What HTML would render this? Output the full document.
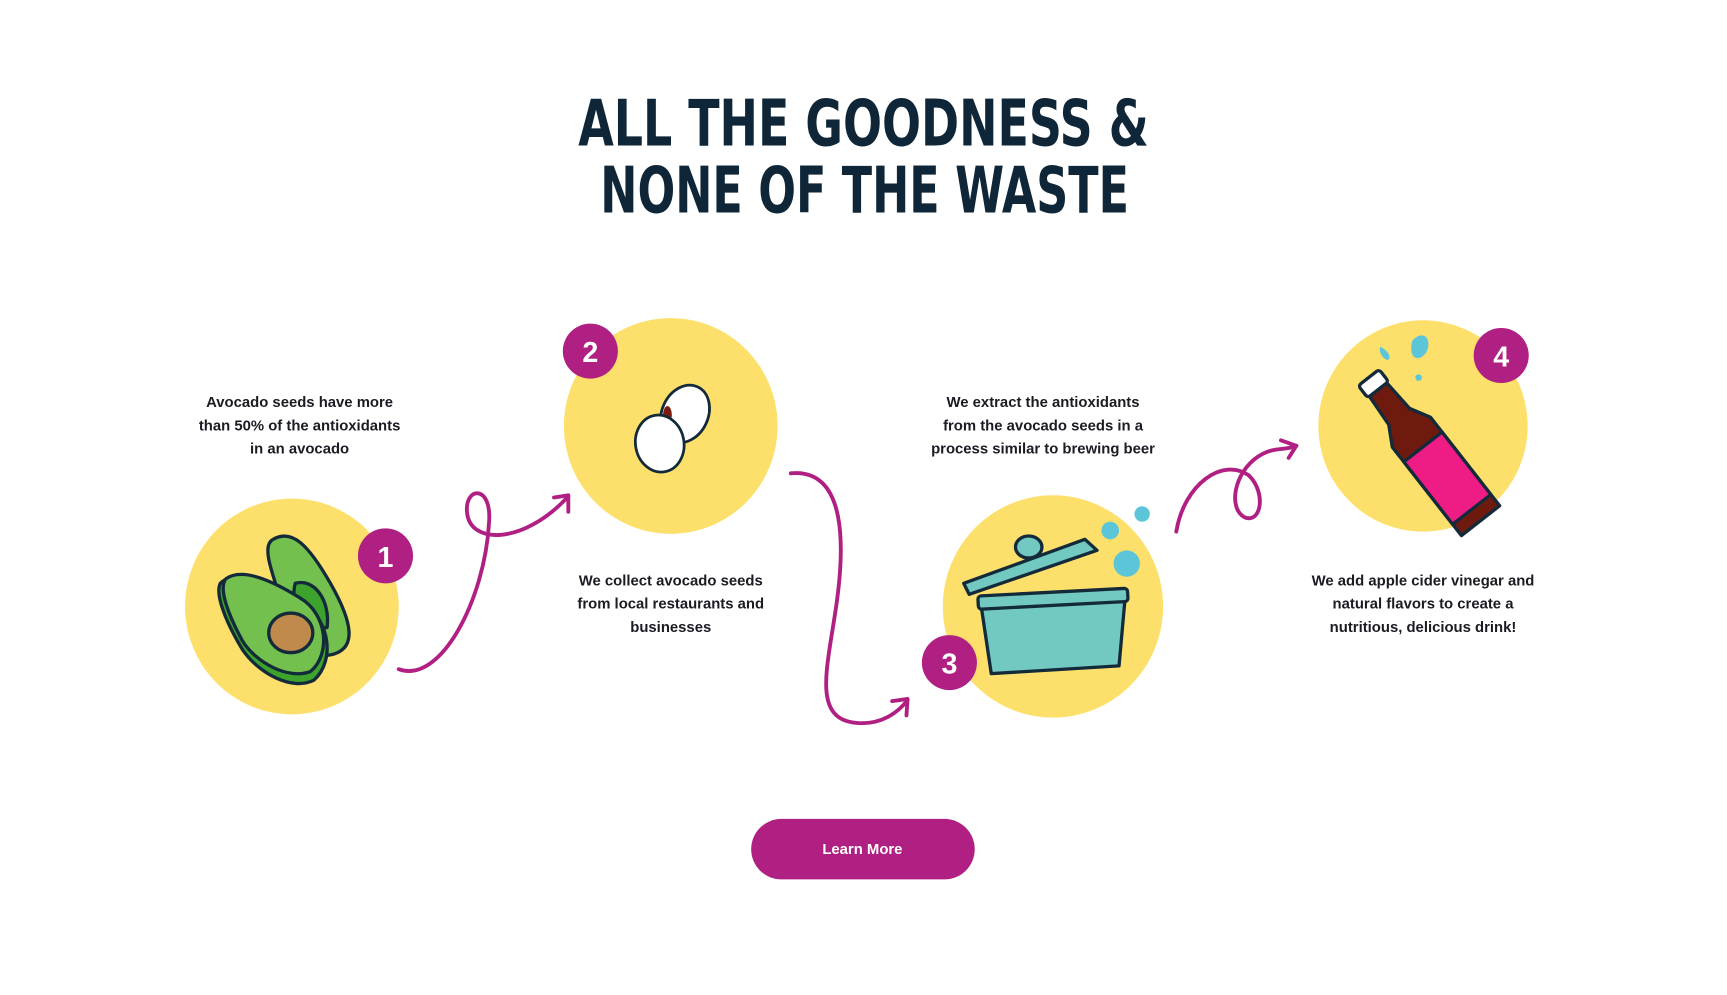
<!DOCTYPE html>
<html><head><meta charset="utf-8"><style>
html,body{margin:0;padding:0;background:#fff;}
svg{display:block;}
.t{font-family:"Liberation Sans",sans-serif;font-weight:bold;font-size:13.5px;fill:#1b1b24;text-anchor:middle;}
.h{font-family:"Liberation Sans Narrow","DejaVu Sans Condensed","Liberation Sans",sans-serif;font-weight:bold;font-size:58px;fill:#0e2638;}
.b{font-family:"Liberation Sans",sans-serif;font-weight:bold;font-size:26px;fill:#fff;text-anchor:middle;}
.ar{fill:none;stroke:#b01f82;stroke-width:3.5;stroke-linecap:round;stroke-linejoin:round;}
</style></head><body>
<svg width="1727" height="995" viewBox="0 0 1568 904" preserveAspectRatio="none">
<text class="h" x="525" y="132" textLength="518" lengthAdjust="spacingAndGlyphs">ALL THE GOODNESS &amp;</text>
<text class="h" x="545" y="193" textLength="480" lengthAdjust="spacingAndGlyphs">NONE OF THE WASTE</text>

<ellipse cx="265" cy="551" rx="97" ry="98" fill="#fde06b"/>
<ellipse cx="609" cy="387" rx="97" ry="98" fill="#fde06b"/>
<ellipse cx="956" cy="551" rx="100" ry="101" fill="#fde06b"/>
<ellipse cx="1292" cy="387" rx="95" ry="96" fill="#fde06b"/>

<g stroke="#132a3a" stroke-width="3" stroke-linejoin="round">
<path d="M248,490 C265,480 280,495 300,530 C320,565 325,590 300,595 C280,598 265,575 255,545 C245,515 238,495 248,490Z" fill="#74c04e"/>
<path d="M268,530 C285,525 300,545 297,570 C280,575 262,555 268,530Z" fill="#3da32c"/>
<path d="M200,530 C215,515 245,530 270,545 C300,560 305,600 285,618 C265,628 235,612 220,590 C205,565 195,540 200,530Z" fill="#3da32c"/>
<path d="M205,526 C220,515 248,528 272,543 C298,558 300,595 282,610 C262,618 232,602 220,582 C208,560 198,535 205,526Z" fill="#74c04e"/>
<ellipse cx="264" cy="575" rx="20" ry="18" fill="#c08a4c"/>
</g>
<g stroke="#132a3a" stroke-width="2.5">
<ellipse cx="622" cy="376" rx="21" ry="27" transform="rotate(25 622 376)" fill="#fff"/>
<ellipse cx="606" cy="377" rx="4" ry="8" fill="#7a1a10" stroke="none"/>
<ellipse cx="599" cy="403" rx="22" ry="26" transform="rotate(-10 599 403)" fill="#fff"/>
</g>
<g stroke="#132a3a" stroke-width="3" stroke-linejoin="round">
<path d="M890,545 L1022,538 L1016,605 L900,612Z" fill="#72c9c2"/>
<rect x="888" y="538" width="136" height="12" rx="3" fill="#72c9c2" transform="rotate(-3 956 544)"/>
<path d="M875,530 L985,490 L996,500 L880,540Z" fill="#72c9c2"/>
<ellipse cx="934" cy="497" rx="12" ry="10" fill="#72c9c2"/>
</g>
<circle cx="1008" cy="482" r="8" fill="#5cc6d8"/>
<circle cx="1023" cy="512" r="12" fill="#5cc6d8"/>
<circle cx="1037" cy="467" r="7" fill="#5cc6d8"/>
<g stroke="#132a3a" stroke-width="3" stroke-linejoin="round" transform="rotate(-38 1295 410)">
<rect x="1283" y="325" width="24" height="14" rx="3" fill="#fff"/>
<path d="M1285,339 L1305,339 L1307,370 L1317,388 L1317,490 L1273,490 L1273,388 L1283,370Z" fill="#6f1a0e"/>
<rect x="1273" y="405" width="44" height="72" fill="#ee1c84"/>
</g>
<path d="M1282,310 C1290,300 1300,305 1296,318 C1292,328 1278,330 1282,310Z" fill="#5cc6d8"/>
<path d="M1253,315 C1260,318 1264,325 1260,327 C1255,326 1252,320 1253,315Z" fill="#5cc6d8"/>
<circle cx="1288" cy="343" r="3" fill="#5cc6d8"/>

<g fill="#b01f82">
<circle cx="350" cy="505" r="25"/><circle cx="536" cy="319" r="25"/>
<circle cx="862" cy="602" r="25"/><circle cx="1363" cy="323" r="25"/>
</g>
<text class="b" x="350" y="515">1</text><text class="b" x="536" y="329">2</text>
<text class="b" x="862" y="612">3</text><text class="b" x="1363" y="333">4</text>

<path class="ar" d="M362,608 C400,622 440,545 444,475 C447,440 422,442 424,465 C426,495 475,495 515,452"/>
<path class="ar" d="M503,452 L516,450 L516,465"/>
<path class="ar" d="M718,430 C770,425 766,500 760,545 C752,605 735,655 780,657 C800,658 815,648 824,636"/>
<path class="ar" d="M810,637 L824,635 L823,650"/>
<path class="ar" d="M1068,483 C1075,440 1110,415 1134,432 C1150,448 1145,476 1130,470 C1115,462 1120,430 1142,415 C1157,405 1166,410 1177,405"/>
<path class="ar" d="M1163,400 L1177,405 L1170,416"/>

<text class="t" x="272" y="370">Avocado seeds have more</text>
<text class="t" x="272" y="391">than 50% of the antioxidants</text>
<text class="t" x="272" y="412">in an avocado</text>
<text class="t" x="609" y="532">We collect avocado seeds</text>
<text class="t" x="609" y="553">from local restaurants and</text>
<text class="t" x="609" y="574">businesses</text>
<text class="t" x="947" y="370">We extract the antioxidants</text>
<text class="t" x="947" y="391">from the avocado seeds in a</text>
<text class="t" x="947" y="412">process similar to brewing beer</text>
<text class="t" x="1292" y="532">We add apple cider vinegar and</text>
<text class="t" x="1292" y="553">natural flavors to create a</text>
<text class="t" x="1292" y="574">nutritious, delicious drink!</text>

<rect x="682" y="744" width="203" height="55" rx="27.5" fill="#b01f82"/>
<text class="t" x="783" y="776" style="fill:#fff">Learn More</text>
</svg>
</body></html>
